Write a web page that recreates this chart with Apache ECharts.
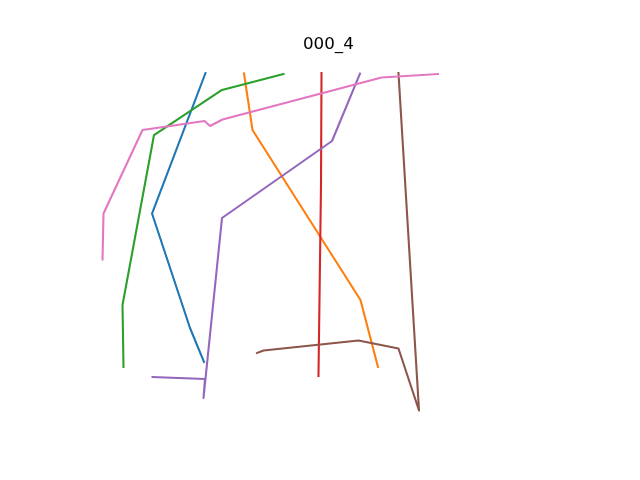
<!DOCTYPE html>
<html><head><meta charset="utf-8">
<script src="https://cdn.jsdelivr.net/npm/echarts@6/dist/echarts.min.js"></script>
<style>html,body{margin:0;padding:0;background:#fff}#c{width:640px;height:480px}</style>
</head><body><div id="c"></div>
<script>
const titleText = "000_4";
const blue   = [[25.30,95.78],[14.52,57.26],[22.18,25.88],[25.00,16.56]];
const orange = [[33.06,95.64],[34.78,80.15],[56.55,33.55],[60.08,15.19]];
const green  = [[41.03,95.50],[28.63,91.12],[14.92,78.78],[8.57,32.18],[8.77,15.19]];
const red    = [[48.69,95.78],[48.59,65.08],[48.08,12.72]];
const purple = [[14.62,12.45],[25.20,11.90],[24.90,6.69],[28.63,56.03],[50.81,77.14],[56.45,95.64]];
const brown  = [[64.21,95.78],[68.35,3.26],[64.21,20.26],[56.15,22.45],[37.00,19.71],[35.69,19.02]];
const pink   = [[72.18,95.50],[60.79,94.54],[28.73,83.03],[26.21,81.25],[25.10,82.62],[12.60,80.15],[4.74,57.26],[4.54,44.65]];

const seriesList = [
  [blue,'#1f77b4'],[orange,'#ff7f0e'],[green,'#2ca02c'],[red,'#d62728'],
  [purple,'#9467bd'],[brown,'#8c564b'],[pink,'#e377c2']
];
const chart = echarts.init(document.getElementById('c'), null, {renderer:'canvas'});
chart.setOption({
  animation:false,
  backgroundColor:'#fff',
  title:{text:titleText,left:303,top:36,padding:0,textStyle:{fontFamily:'DejaVu Sans',fontSize:16.7,fontWeight:'normal',color:'#000'}},
  grid:{left:80,top:57.6,width:496,height:364.8},
  xAxis:{type:'value',min:0,max:100,show:false},
  yAxis:{type:'value',min:0,max:100,show:false},
  series:seriesList.map(([d,c])=>({type:'line',data:d,showSymbol:false,symbol:'none',silent:true,
    lineStyle:{color:c,width:2.1,cap:'square',join:'round'},itemStyle:{color:c}}))
});
</script></body></html>
